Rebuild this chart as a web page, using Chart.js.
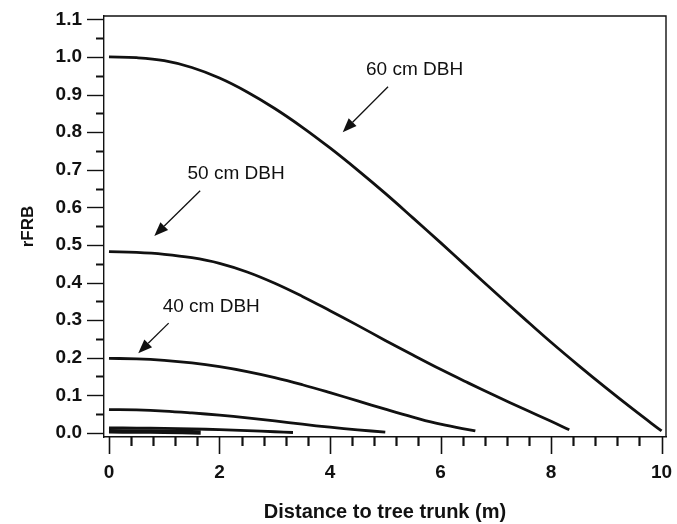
<!DOCTYPE html>
<html>
<head>
<meta charset="utf-8">
<script src="https://cdn.jsdelivr.net/npm/chart.js@4.4.0/dist/chart.umd.min.js"></script>
<style>
  html, body { margin: 0; padding: 0; background: #fff; }
  #wrap { width: 677px; height: 524px; }
</style>
</head>
<body>
<div id="wrap"><canvas id="chart" width="677" height="524"></canvas></div>
<script>
// Relative fine root biomass vs distance to trunk, one curve per tree DBH
const dist60 = [0, 0.5, 1, 1.5, 2, 2.5, 3, 3.5, 4, 4.5, 5, 5.5, 6, 6.5, 7, 7.5, 8, 8.5, 9, 9.5, 10];
const rfrb60 = [1.0, 0.998, 0.990, 0.972, 0.944, 0.907, 0.863, 0.813, 0.758, 0.699, 0.637, 0.572, 0.506, 0.439, 0.372, 0.306, 0.241, 0.179, 0.119, 0.061, 0.005];

const dist50 = [0, 0.5, 1, 1.5, 2, 2.5, 3, 3.5, 4, 4.5, 5, 5.5, 6, 6.5, 7, 7.5, 8, 8.33];
const rfrb50 = [0.482, 0.480, 0.475, 0.466, 0.451, 0.428, 0.398, 0.363, 0.325, 0.286, 0.246, 0.207, 0.169, 0.133, 0.098, 0.064, 0.031, 0.008];

const dist40 = [0, 0.5, 1, 1.5, 2, 2.5, 3, 3.5, 4, 4.5, 5, 5.5, 6, 6.63];
const rfrb40 = [0.198, 0.197, 0.193, 0.186, 0.176, 0.163, 0.147, 0.128, 0.107, 0.085, 0.063, 0.042, 0.023, 0.005];

const dist30 = [0, 0.5, 1, 1.5, 2, 2.5, 3, 3.5, 4, 4.5, 5];
const rfrb30 = [0.062, 0.061, 0.058, 0.053, 0.047, 0.040, 0.032, 0.023, 0.015, 0.008, 0.002];

const dist20 = [0, 0.5, 1, 1.5, 2, 2.5, 3, 3.33];
const rfrb20 = [0.013, 0.0128, 0.012, 0.0105, 0.0085, 0.006, 0.003, 0.001];

const dist10 = [0, 0.5, 1, 1.66];
const rfrb10 = [0.004, 0.0037, 0.003, 0.001];

const xTicks = [0, 2, 4, 6, 8, 10];
const yTicks = [0, 0.1, 0.2, 0.3, 0.4, 0.5, 0.6, 0.7, 0.8, 0.9, 1.0, 1.1];

// callouts, in data units
const callouts = [
  { text: '60 cm DBH', at: [5.53, 0.965], from: [5.05, 0.921], to: [4.23, 0.80] },
  { text: '50 cm DBH', at: [2.30, 0.690], from: [1.65, 0.644], to: [0.82, 0.524] },
  { text: '40 cm DBH', at: [1.85, 0.336], from: [1.08, 0.292], to: [0.53, 0.212] }
];

const FONT = 'Arial, "Liberation Sans", Helvetica, sans-serif';

function toPoints(xs, ys) {
  return xs.map((x, i) => ({ x, y: ys[i] }));
}

function curve(label, xs, ys, width) {
  return {
    label,
    data: toPoints(xs, ys),
    borderColor: '#111',
    borderWidth: width || 2.8,
    pointRadius: 0,
    fill: false,
    tension: 0.4,
    borderCapStyle: 'butt'
  };
}

// box frame, minor/major tick marks and the arrow callouts
const framePlugin = {
  id: 'framePlugin',
  afterDraw(chart) {
    const { ctx, chartArea: a, scales: { x, y } } = chart;
    ctx.save();
    ctx.strokeStyle = '#111';
    ctx.lineWidth = 1.4;
    ctx.beginPath();
    ctx.moveTo(a.left, a.top);
    ctx.lineTo(a.right, a.top);
    ctx.lineTo(a.right, a.bottom);
    ctx.stroke();

    // x ticks every 0.4, long ones every 2
    for (let i = 0; i <= 25; i++) {
      const major = i % 5 === 0;
      const px = Math.round(x.getPixelForValue(i * 0.4)) + 0.5;
      ctx.lineWidth = major ? 1.6 : 2.2;
      ctx.beginPath();
      ctx.moveTo(px, a.bottom);
      ctx.lineTo(px, a.bottom + (major ? 17 : 9));
      ctx.stroke();
    }
    // y ticks every 0.05, long ones every 0.1
    for (let i = 0; i <= 22; i++) {
      const major = i % 2 === 0;
      const py = Math.round(y.getPixelForValue(i * 0.05)) + 0.5;
      ctx.lineWidth = major ? 1.4 : 2;
      ctx.beginPath();
      ctx.moveTo(a.left, py);
      ctx.lineTo(a.left - (major ? 17 : 8), py);
      ctx.stroke();
    }

    // callouts
    ctx.fillStyle = '#111';
    ctx.font = '19px ' + FONT;
    ctx.textAlign = 'center';
    ctx.textBaseline = 'middle';
    callouts.forEach(c => {
      ctx.fillText(c.text, x.getPixelForValue(c.at[0]), y.getPixelForValue(c.at[1]));
      const x1 = x.getPixelForValue(c.from[0]), y1 = y.getPixelForValue(c.from[1]);
      const x2 = x.getPixelForValue(c.to[0]), y2 = y.getPixelForValue(c.to[1]);
      const ang = Math.atan2(y2 - y1, x2 - x1);
      const head = 14, half = 5.5;
      const bx = x2 - head * Math.cos(ang), by = y2 - head * Math.sin(ang);
      ctx.lineWidth = 1.3;
      ctx.beginPath();
      ctx.moveTo(x1, y1);
      ctx.lineTo(bx, by);
      ctx.stroke();
      ctx.beginPath();
      ctx.moveTo(x2, y2);
      ctx.lineTo(bx + half * Math.sin(ang), by - half * Math.cos(ang));
      ctx.lineTo(bx - half * Math.sin(ang), by + half * Math.cos(ang));
      ctx.closePath();
      ctx.fill();
    });
    ctx.restore();
  }
};

new Chart(document.getElementById('chart'), {
  type: 'line',
  data: {
    datasets: [
      curve('60 cm DBH', dist60, rfrb60),
      curve('50 cm DBH', dist50, rfrb50),
      curve('40 cm DBH', dist40, rfrb40),
      curve('30 cm DBH', dist30, rfrb30),
      curve('20 cm DBH', dist20, rfrb20),
      curve('10 cm DBH', dist10, rfrb10, 4.5)
    ]
  },
  options: {
    responsive: false,
    animation: false,
    layout: { padding: { left: 0, top: 16, right: 11, bottom: 0 } },
    plugins: {
      legend: { display: false },
      tooltip: { enabled: false }
    },
    scales: {
      x: {
        type: 'linear',
        min: -0.09,
        max: 10.08,
        afterFit: (s) => { s.height = 87; s.paddingLeft = 0; s.paddingRight = 0; },
        afterBuildTicks: (s) => { s.ticks = xTicks.map(v => ({ value: v })); },
        grid: { display: false, drawTicks: false },
        border: { display: true, color: '#111', width: 1.4 },
        ticks: {
          color: '#111',
          padding: 24,
          maxRotation: 0,
          font: { family: FONT, size: 19, weight: 'bold' },
          callback: (v) => String(v)
        },
        title: {
          display: true,
          text: 'Distance to tree trunk (m)',
          color: '#111',
          padding: { top: 0, bottom: 0 },
          font: { family: FONT, size: 20, weight: 'bold' }
        }
      },
      y: {
        type: 'linear',
        min: -0.011,
        max: 1.109,
        afterFit: (s) => { s.width = 104; s.paddingTop = 0; s.paddingBottom = 0; },
        afterBuildTicks: (s) => { s.ticks = yTicks.map(v => ({ value: v })); },
        grid: { display: false, drawTicks: false },
        border: { display: true, color: '#111', width: 1.4 },
        ticks: {
          color: '#111',
          padding: 22,
          font: { family: FONT, size: 19, weight: 'bold' },
          callback: (v) => Number(v).toFixed(1)
        },
        title: {
          display: true,
          text: 'rFRB',
          color: '#111',
          padding: { top: 18, bottom: 0 },
          font: { family: FONT, size: 17, weight: 'bold' }
        }
      }
    }
  },
  plugins: [framePlugin]
});
</script>
</body>
</html>
